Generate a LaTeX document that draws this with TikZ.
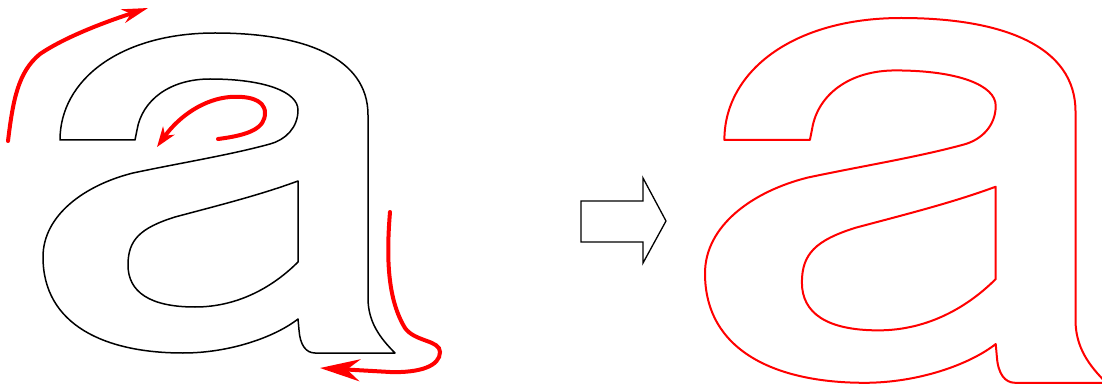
\documentclass[tikz,border=0pt]{standalone}
\usetikzlibrary{arrows.meta}
\newcommand\letterA[1]{%
 \draw[#1] (60,140) -- (135,140) -- (137,130) .. controls (142,100) and (170,79) .. (210,79)
  .. controls (265,79) and (298,92) .. (298,110)
  .. controls (298,128) and (285,140) .. (270,144)
  .. controls (230,155) and (180,163) .. (133,173)
  .. controls (85,185) and (43,215) .. (43,257)
  .. controls (43,325) and (105,353) .. (183,353)
  .. controls (230,353) and (275,337) .. (298,319)
  -- (299,330) .. controls (300,345) and (306,353) .. (315,353)
  -- (395,353)
  .. controls (380,338) and (368,322) .. (368,298)
  -- (368,115)
  .. controls (368,58) and (305,33) .. (215,33)
  .. controls (120,33) and (60,80) .. (60,140) -- cycle
  (298,181) -- (298,262)
  .. controls (275,285) and (240,307) .. (195,307)
  .. controls (150,307) and (128,292) .. (128,265)
  .. controls (128,240) and (140,228) .. (175,217)
  .. controls (220,205) and (260,195) .. (298,181) -- cycle;}
\tikzset{
  glyphblack/.style={black, line width=1.5pt, line join=round},
  glyphred/.style={red, line width=2pt, line join=round},
  redarrow/.style={red, line width=4pt, line cap=round},
  blockarrow/.style={draw=black, fill=white, line width=1.3pt, line join=miter}
}
\begin{document}
\begin{tikzpicture}[x=1pt,y=-1pt]
\useasboundingbox (0,0) rectangle (1102,387);
% left glyph
\letterA{glyphblack}
% red direction arrows
\draw[redarrow, -{Stealth[length=26pt,width=14pt,inset=8pt]}]
  (8,141) .. controls (13,100) and (18,72) .. (40,54)
  .. controls (65,37) and (105,22) .. (148,8);
\draw[redarrow, -{Stealth[length=20pt,width=14pt,inset=6pt]}]
  (218,139) .. controls (250,135) and (265,128) .. (265,113)
  .. controls (265,98) and (245,96) .. (230,97)
  .. controls (205,99) and (180,115) .. (157,147);
\draw[redarrow, -{Stealth[length=40pt,width=22pt,inset=13pt]}]
  (390,212) .. controls (386,260) and (388,300) .. (405,328)
  .. controls (415,342) and (440,340) .. (440,352)
  .. controls (440,366) and (420,373) .. (390,372) -- (320,368);
% block arrow
\draw[blockarrow] (581,201) -- (643,201) -- (643,178) -- (666,221) -- (643,263) -- (643,242) -- (581,242) -- cycle;
% right glyph
\begin{scope}
  \clip (0,0) rectangle (1102,387);
  \begin{scope}[shift={(655.98,-19.62)}, scale=1.14]
    \letterA{glyphred}
  \end{scope}
\end{scope}
\end{tikzpicture}
\end{document}
